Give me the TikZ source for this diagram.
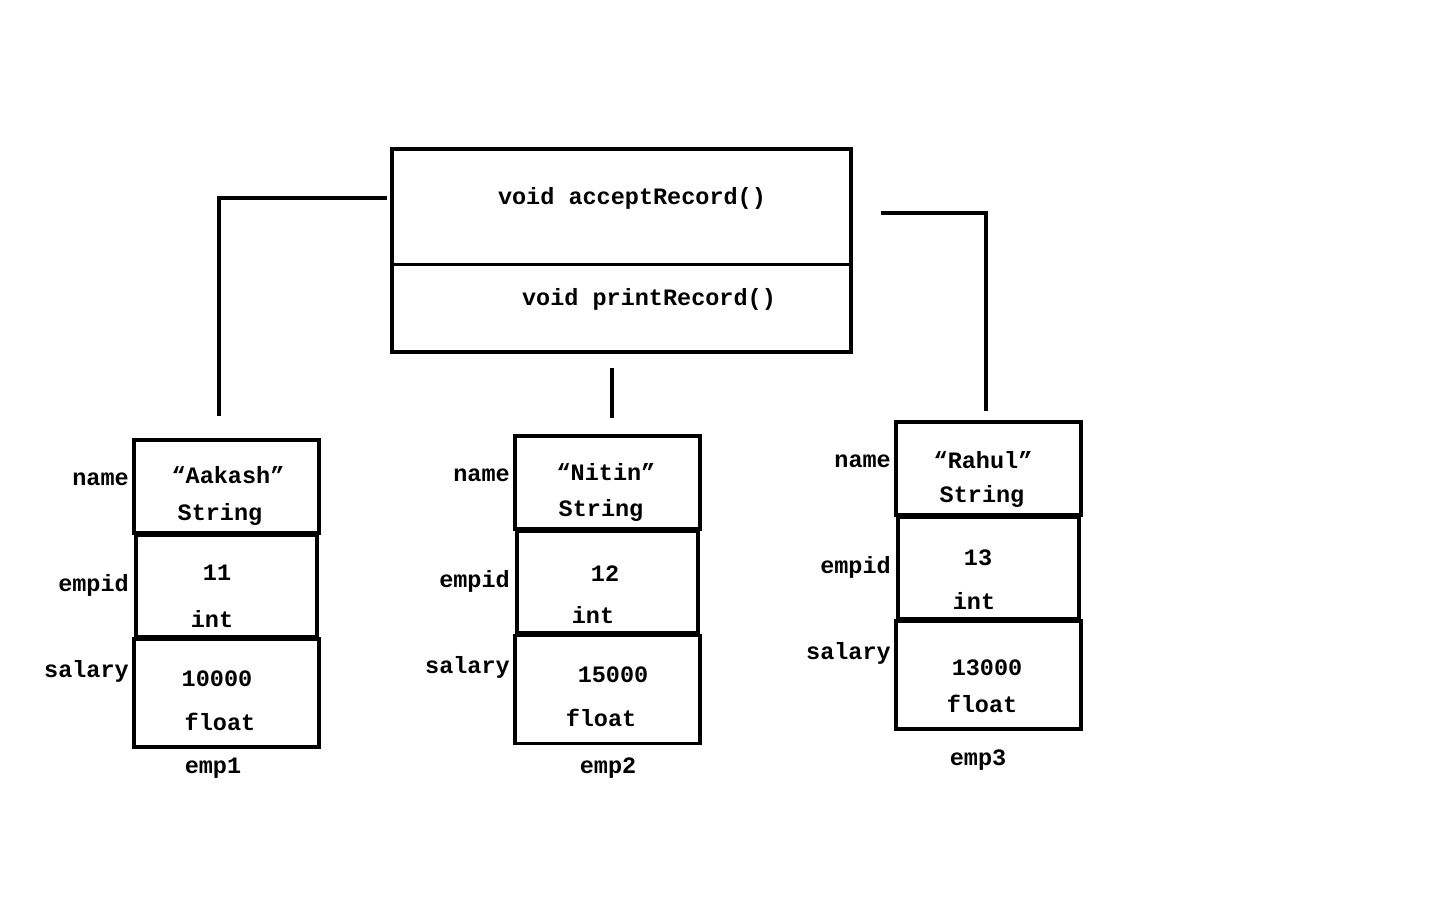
\documentclass[tikz,border=0pt]{standalone}
\usepackage{fontspec}
\setmonofont{Liberation Mono}
\begin{document}
\begin{tikzpicture}[x=1pt,y=-1pt,
  box/.style={draw, line width=3.5pt, inner sep=0pt, outer sep=0pt},
  txt/.style={font=\fontsize{23.5}{28}\selectfont\ttfamily\bfseries, inner sep=0pt},
  lbl/.style={txt, anchor=east},
  conn/.style={line width=3.5pt}]
\useasboundingbox[fill=white] (0,0) rectangle (1440,900);
% top class box
\node[box, minimum width=459pt, minimum height=203pt] (cls) at (621.5,250.5) {};
\node[box, minimum width=459pt, minimum height=0pt, line width=3pt, draw=none] (div) at (621.5,264) {};
\draw[line width=3pt] (cls.west |- div.center) -- (cls.east |- div.center);
\node[txt] (acc) at (632,198) {void acceptRecord()};
\node[txt] (prt) at (649,299) {void printRecord()};
% emp1
\node[box, minimum width=185pt, minimum height=93pt] (e1a) at (226.5,486.5) {};
\node[box, minimum width=181pt, minimum height=101pt] (e1b) at (226.5,586) {};
\node[box, minimum width=185pt, minimum height=108pt] (e1c) at (226.5,693) {};
\node[txt] at (228,475) {“Aakash”};
\node[txt] at (220,514) {String};
\node[txt] at (217,573) {11};
\node[txt] at (212,619) {int};
\node[txt] at (217,679) {10000};
\node[txt] at (220,722) {float};
\node[txt] at (213,768) {emp1};
\node[lbl] at (129,479) {name};
\node[lbl] at (129,585) {empid};
\node[lbl] at (129,671) {salary};
% emp2
\node[box, minimum width=185pt, minimum height=93pt] (e2a) at (607.5,482.5) {};
\node[box, minimum width=181pt, minimum height=101pt] (e2b) at (607.5,582) {};
\node[box, minimum width=185pt, minimum height=108pt] (e2c) at (607.5,689.5) {};
\node[txt] at (606,472) {“Nitin”};
\node[txt] at (601,510) {String};
\node[txt] at (605,574) {12};
\node[txt] at (593,615) {int};
\node[txt] at (613,675) {15000};
\node[txt] at (601,718) {float};
\node[txt] at (608,768) {emp2};
\node[lbl] at (510,475) {name};
\node[lbl] at (510,581) {empid};
\node[lbl] at (510,667) {salary};
% emp3
\node[box, minimum width=185pt, minimum height=93pt] (e3a) at (988.5,468.5) {};
\node[box, minimum width=181pt, minimum height=101pt] (e3b) at (988.5,568) {};
\node[box, minimum width=185pt, minimum height=108pt] (e3c) at (988.5,675) {};
\node[txt] at (983,460) {“Rahul”};
\node[txt] at (982,496) {String};
\node[txt] at (978,558) {13};
\node[txt] at (974,601) {int};
\node[txt] at (987,668) {13000};
\node[txt] at (982,704) {float};
\node[txt] at (978,760) {emp3};
\node[lbl] at (891,461) {name};
\node[lbl] at (891,567) {empid};
\node[lbl] at (891,653) {salary};
% connectors
\coordinate (l1) at (387,198);
\coordinate (l2) at (219,198);
\coordinate (l3) at (219,416);
\coordinate (m1) at (612,368);
\coordinate (m2) at (612,418);
\coordinate (r1) at (881,213);
\coordinate (r2) at (986,213);
\coordinate (r3) at (986,411);
\draw[conn] (l1) -- (l2) -- (l3);
\draw[conn] (m1) -- (m2);
\draw[conn] (r1) -- (r2) -- (r3);
\end{tikzpicture}
\end{document}
